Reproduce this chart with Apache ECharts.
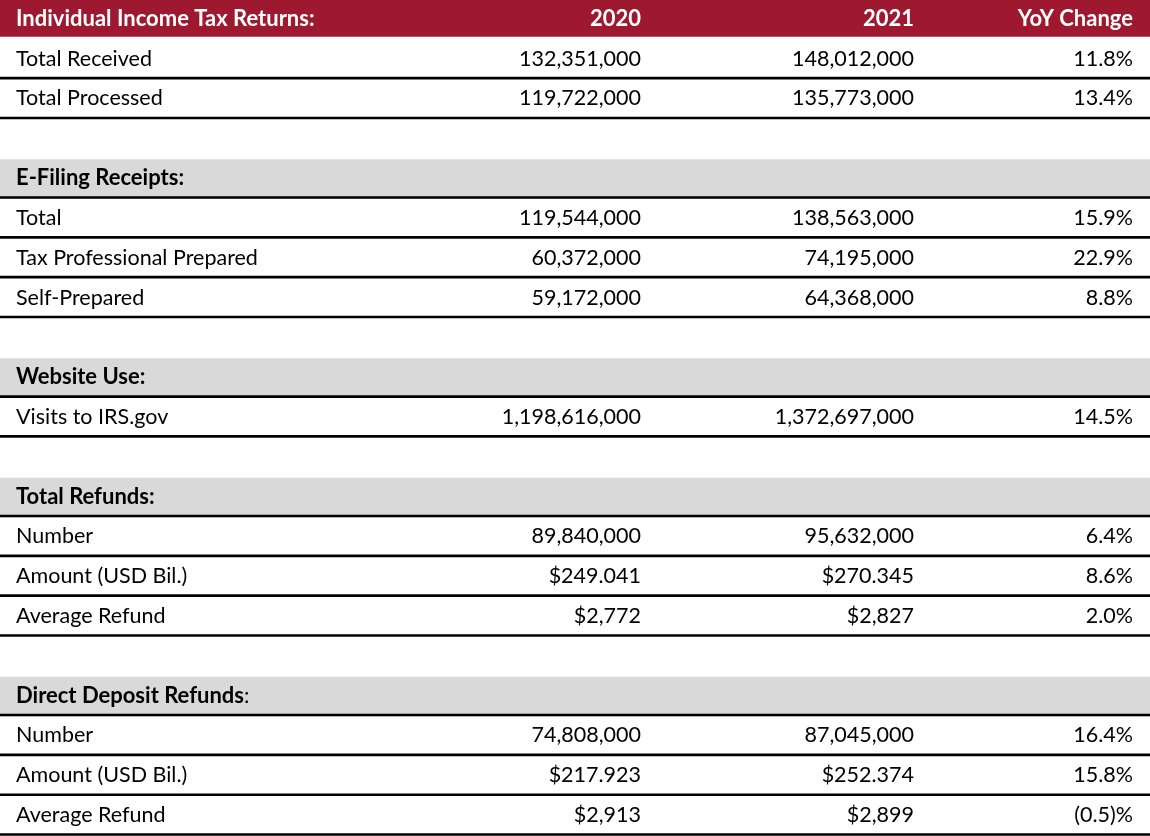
<!DOCTYPE html>
<html><head><meta charset="utf-8">
<script src="https://cdn.jsdelivr.net/npm/echarts@6/dist/echarts.min.js"></script>
<style>html,body{margin:0;padding:0;background:#fff}#c{width:1150px;height:836px}</style>
</head><body><div id="c"></div>
<script>
// ---- data ----
const headerLabels = ['Individual Income Tax Returns:', '2020', '2021', 'YoY Change'];
const sectionTitles = ['Individual Income Tax Returns', 'E-Filing Receipts', 'Website Use', 'Total Refunds', 'Direct Deposit Refunds'];
const sectionColonBold = [true, true, true, true, false];
const rowSection = [0, 0, 1, 1, 1, 2, 3, 3, 3, 4, 4, 4];
const rowLabels = ['Total Received', 'Total Processed', 'Total', 'Tax Professional Prepared', 'Self-Prepared',
  'Visits to IRS.gov', 'Number', 'Amount (USD Bil.)', 'Average Refund', 'Number', 'Amount (USD Bil.)', 'Average Refund'];
const values2020 = [132351000, 119722000, 119544000, 60372000, 59172000, 1198616000, 89840000, 249.041, 2772, 74808000, 217.923, 2913];
const values2021 = [148012000, 135773000, 138563000, 74195000, 64368000, 1372697000, 95632000, 270.345, 2827, 87045000, 252.374, 2899];
const yoyChange = [11.8, 13.4, 15.9, 22.9, 8.8, 14.5, 6.4, 8.6, 2.0, 16.4, 15.8, -0.5];
const rowFormat = ['count', 'count', 'count', 'count', 'count', 'count', 'count', 'usdBil', 'usd', 'count', 'usdBil', 'usd'];

// ---- formatting ----
function fmtValue(v, f) {
  if (f === 'usdBil') return '$' + v.toFixed(3);
  if (f === 'usd') return '$' + Math.round(v).toLocaleString('en-US');
  return Math.round(v).toLocaleString('en-US');
}
function fmtPct(v) {
  return v < 0 ? '(' + Math.abs(v).toFixed(1) + ')%' : v.toFixed(1) + '%';
}

// ---- build table rows ----
const tableRows = [];
tableRows.push({ kind: 'top' });
let currentSection = 0;
rowSection.forEach((s, i) => {
  if (s !== currentSection) {
    currentSection = s;
    tableRows.push({ kind: 'gap' });
    tableRows.push({ kind: 'section', section: s });
  }
  tableRows.push({ kind: 'data', idx: i });
});
const rowCategories = tableRows.map((r, i) => String(i));

const RED = '#9E1830', GRAY = '#D9D9D9', FONT = 'Lato, "Noto Sans", sans-serif', FS = 21.5, FSB = 22;
const LEFT_X = 16, COL_RIGHT = [641, 914, 1133];

function renderItem(params, api) {
  const i = api.value(1);
  const row = tableRows[i];
  const cs = params.coordSys;
  const cy = api.coord([0, i])[1];
  const h = api.size([0, 1])[1];
  const top = cy - h / 2, bottom = cy + h / 2;
  const ty = cy - 1;
  const children = [];
  const txt = (text, x, align, color, weight) => ({
    type: 'text',
    style: { text, x: cs.x + x, y: ty, align, verticalAlign: 'middle', fill: color,
      fontFamily: FONT, fontSize: weight === 'bold' ? FSB : FS, fontWeight: weight }
  });
  const rule = () => ({
    type: 'line',
    shape: { x1: cs.x, y1: bottom - 1.5, x2: cs.x + cs.width, y2: bottom - 1.5 },
    style: { stroke: '#000', lineWidth: 2.6 }
  });
  if (row.kind === 'top') {
    children.push({ type: 'rect', shape: { x: cs.x, y: top, width: cs.width, height: h - 3 }, style: { fill: RED } });
    children.push(txt(headerLabels[0], LEFT_X, 'left', '#fff', 'bold'));
    for (let c = 1; c < 4; c++) children.push(txt(headerLabels[c], COL_RIGHT[c - 1], 'right', '#fff', 'bold'));
  } else if (row.kind === 'section') {
    const s = row.section;
    children.push({ type: 'rect', shape: { x: cs.x, y: top, width: cs.width, height: h }, style: { fill: GRAY } });
    children.push({
      type: 'text',
      style: {
        text: '{b|' + sectionTitles[s] + '}{' + (sectionColonBold[s] ? 'b' : 'r') + '|:}',
        x: cs.x + LEFT_X, y: ty, align: 'left', verticalAlign: 'middle',
        rich: {
          b: { fontFamily: FONT, fontSize: FSB, fontWeight: 'bold', fill: '#000' },
          r: { fontFamily: FONT, fontSize: FS, fontWeight: 'normal', fill: '#000' }
        }
      }
    });
    children.push(rule());
  } else if (row.kind === 'data') {
    const k = row.idx;
    children.push(txt(rowLabels[k], LEFT_X, 'left', '#000', 'normal'));
    children.push(txt(fmtValue(values2020[k], rowFormat[k]), COL_RIGHT[0], 'right', '#000', 'normal'));
    children.push(txt(fmtValue(values2021[k], rowFormat[k]), COL_RIGHT[1], 'right', '#000', 'normal'));
    children.push(txt(fmtPct(yoyChange[k]), COL_RIGHT[2], 'right', '#000', 'normal'));
    children.push(rule());
  }
  return { type: 'group', children };
}

const chart = echarts.init(document.getElementById('c'), null, { renderer: 'canvas' });
chart.setOption({
  animation: false,
  backgroundColor: '#fff',
  grid: { left: 0, right: 0, top: 0, bottom: 0 },
  xAxis: { type: 'value', min: 0, max: 1, show: false },
  yAxis: { type: 'category', data: rowCategories, inverse: true, show: false },
  series: [{
    type: 'custom',
    silent: true,
    clip: false,
    renderItem,
    encode: { x: 0, y: 1 },
    data: tableRows.map((r, i) => [0, i])
  }]
});
</script>
</body></html>
